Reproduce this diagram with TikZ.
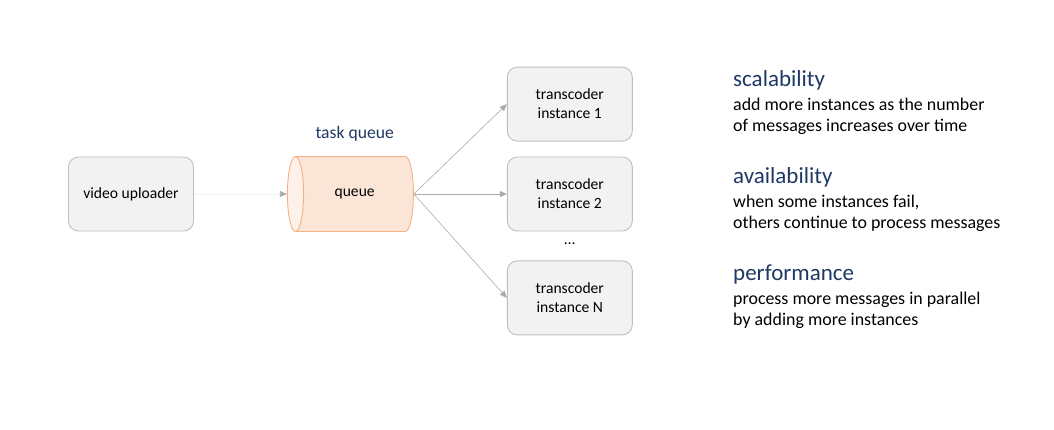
\documentclass[tikz,border=0pt]{standalone}
\usepackage{fontspec}
\setmainfont{Carlito}
\usetikzlibrary{positioning,shapes.geometric,arrows.meta}
\definecolor{boxfill}{HTML}{F2F2F2}
\definecolor{boxline}{HTML}{BFBFBF}
\definecolor{queuefill}{HTML}{FBE5D6}
\definecolor{queueend}{HTML}{FDF1E9}
\definecolor{queueline}{HTML}{F4B183}
\definecolor{heading}{HTML}{1F3864}
\definecolor{wire}{HTML}{ABABAB}
\tikzset{
  service/.style={draw=boxline, fill=boxfill, line width=0.9pt, rounded corners=10pt,
    minimum width=125pt, minimum height=74pt, align=center, font=\fontsize{15.6}{19}\selectfont},
  queue/.style={cylinder, shape border rotate=180, draw=queueline, line width=0.9pt,
    cylinder uses custom fill, cylinder body fill=queuefill, cylinder end fill=queueend,
    aspect=1.6, minimum width=75pt, minimum height=126pt, inner sep=0pt,
    font=\fontsize{15.6}{19}\selectfont},
  link/.style={draw=wire, line width=0.6pt, -{Triangle[length=7pt, width=6pt, color=wire]}},
  title/.style={anchor=base west, inner sep=0pt, text=heading, font=\fontsize{23}{27}\selectfont},
  note/.style={anchor=base west, inner sep=0pt, font=\fontsize{17.9}{22}\selectfont},
}
\begin{document}
\begin{tikzpicture}[x=1pt, y=-1pt]
  \useasboundingbox (0,0) rectangle (1054,429);
  \node (uploader) [service] at (131,194) {video uploader};
  \node (queue) [queue, right=93pt of uploader] {queue};
  \node (tasklabel) [above=11pt of queue, text=heading, font=\fontsize{17.6}{21}\selectfont] {task queue};
  \node (t2) [service, right=93pt of queue] {transcoder\\instance 2};
  \node (t1) [service, above=15pt of t2] {transcoder\\instance 1};
  \node (tn) [service, below=29pt of t2] {transcoder\\instance N};
  \node (dots) [below=11pt of t2, inner sep=0pt, font=\fontsize{15.6}{19}\selectfont] {…};

  \draw [link, draw=boxfill] (uploader) -- (queue.west);
  \draw [link] (queue.east) -- (t1.west);
  \draw [link] (queue.east) -- (t2.west);
  \draw [link] (queue.east) -- (tn.west);

  % benefits
  \node (scal) [title] at (733,86) {scalability};
  \node (scal1) [note] at ([yshift=-24pt]scal.base west) {add more instances as the number};
  \node (scal2) [note] at ([yshift=-21.5pt]scal1.base west) {of messages increases over time};
  \node (avail) [title] at (733,183) {availability};
  \node (avail1) [note] at ([yshift=-24pt]avail.base west) {when some instances fail,};
  \node (avail2) [note] at ([yshift=-21.5pt]avail1.base west) {others continue to process messages};
  \node (perf) [title] at (733,280) {performance};
  \node (perf1) [note] at ([yshift=-24pt]perf.base west) {process more messages in parallel};
  \node (perf2) [note] at ([yshift=-21.5pt]perf1.base west) {by adding more instances};
\end{tikzpicture}
\end{document}
